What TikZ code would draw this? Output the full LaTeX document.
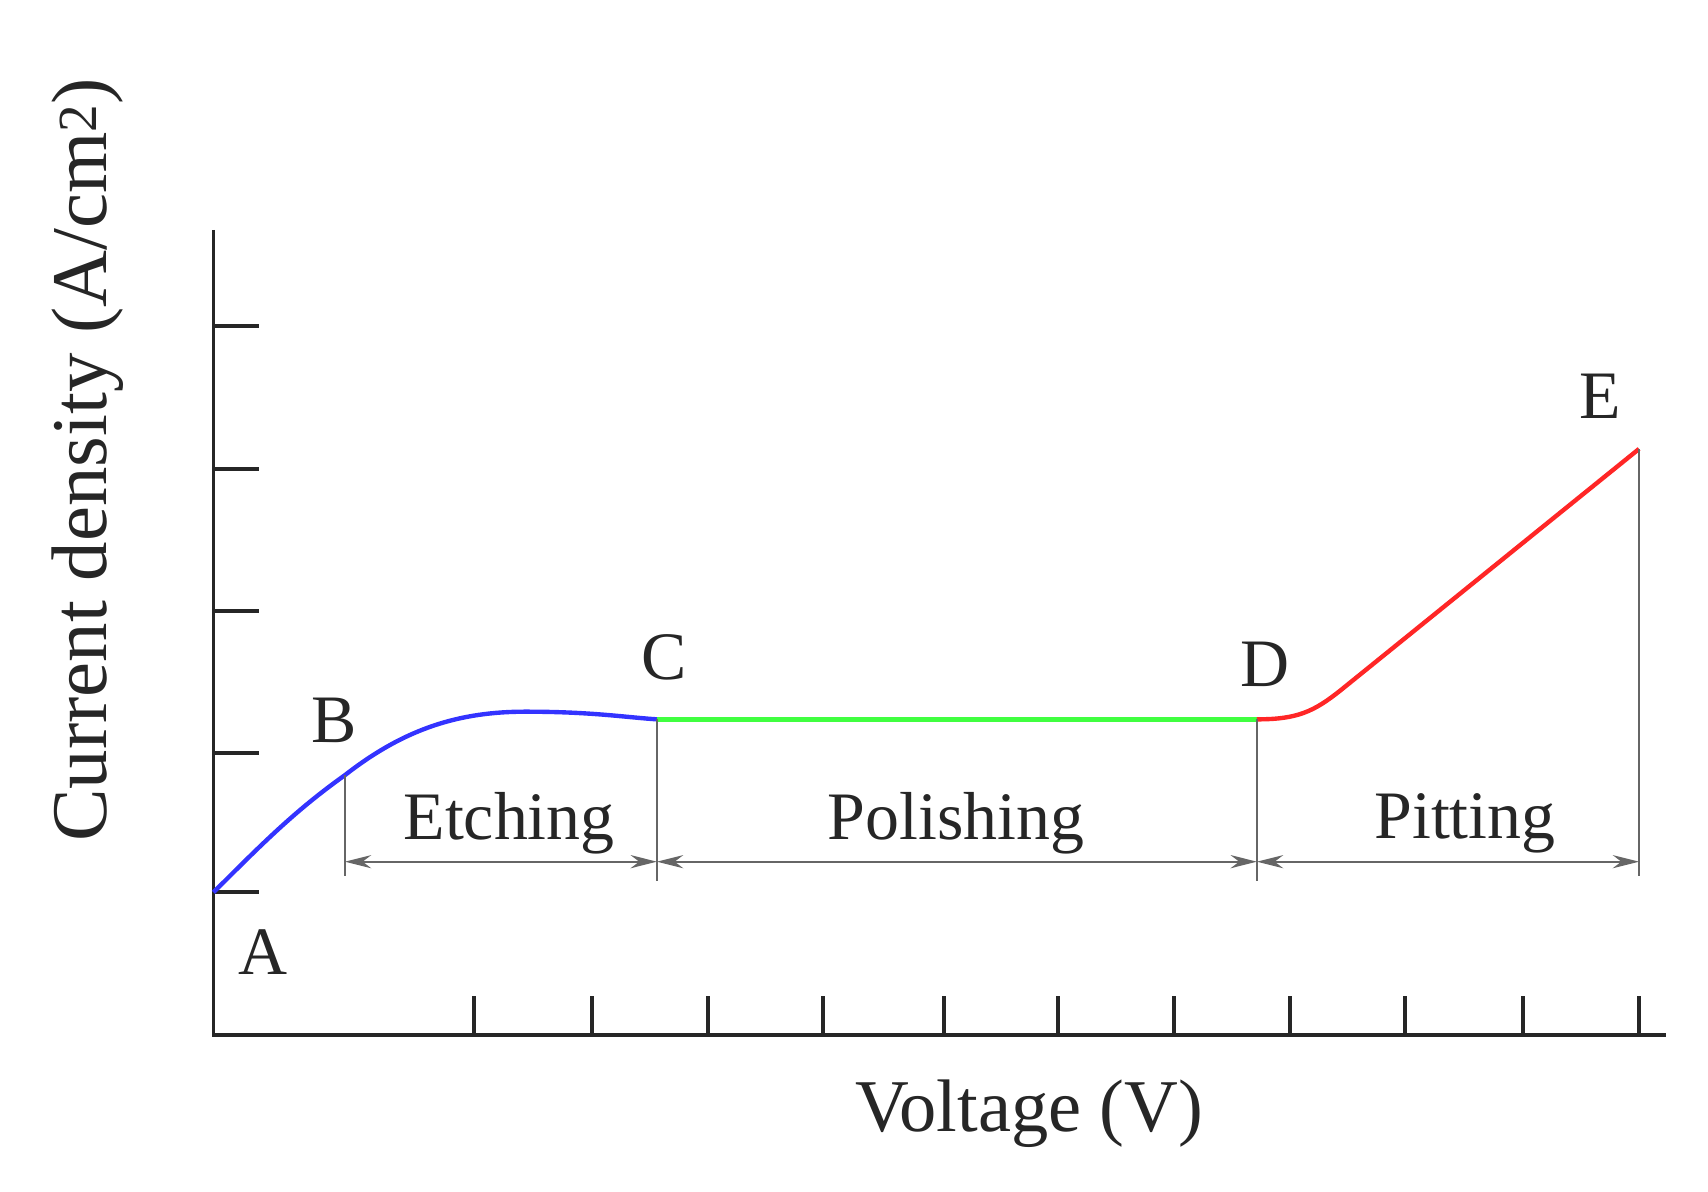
\documentclass[tikz,border=0pt]{standalone}
\usepackage{fontspec}
\setmainfont{Liberation Serif}
\usetikzlibrary{arrows.meta}
\begin{document}
\begin{tikzpicture}[x=1pt,y=-1pt,
  ax/.style={line width=3.5pt,black!85},
  dim/.style={line width=2pt,black!60},
  lbl/.style={font=\fontsize{62}{62}\selectfont,text=black!85,inner sep=0},
  dimarr/.style={dim,{Stealth[length=24pt,width=12pt]}-{Stealth[length=24pt,width=12pt]}}]
\useasboundingbox (0,0) rectangle (1560,1088);
\coordinate (O) at (195,945);
\coordinate (Ytop) at (195,210);
\coordinate (Xend) at (1522,945);
\draw[ax] (Ytop) -- (O) -- (Xend);
\foreach \y in {298,428,558,688,815} \draw[ax] (195,\y) -- (237,\y);
\foreach \x in {433,541,647,752,862,966,1072,1178,1283,1391,1497} \draw[ax] (\x,945) -- (\x,910);
\coordinate (A) at (195,815);
\coordinate (B) at (315,708);
\coordinate (C) at (600,657);
\coordinate (D) at (1148,657);
\coordinate (E) at (1497,410);
\draw[line width=4pt,blue!80] (A) .. controls (240,770) and (270,740) .. (B)
  .. controls (370,665) and (420,650) .. (480,650) .. controls (540,650) and (570,655) .. (C);
\draw[line width=4pt,green!75] (C) -- (D);
\draw[line width=4pt,red!85] (D) .. controls (1185,657) and (1200,650) .. (1225,630) -- (E);
\coordinate (B1) at (315,800); \coordinate (C1) at (600,805);
\coordinate (D1) at (1148,805); \coordinate (E1) at (1497,800);
\draw[dim] (B) -- (B1); \draw[dim] (C) -- (C1); \draw[dim] (D) -- (D1); \draw[dim] (E) -- (E1);
\coordinate (b2) at (315,787); \coordinate (c2) at (600,787);
\coordinate (d2) at (1148,787); \coordinate (e2) at (1497,787);
\draw[dimarr] (b2) -- (c2);
\draw[dimarr] (c2) -- (d2);
\draw[dimarr] (d2) -- (e2);
\node[lbl] (et) at (465,752) {Etching};
\node[lbl] (po) at (873,752) {Polishing};
\node[lbl] (pi) at (1338,752) {Pitting};
\node[lbl] (la) at (240,870) {A};
\node[lbl] (lb) at (305,658) {B};
\node[lbl] (lc) at (607,600) {C};
\node[lbl] (ld) at (1155,607) {D};
\node[lbl] (le) at (1462,362) {E};
\node[lbl,font=\fontsize{68}{68}\selectfont] (xl) at (940,1017) {Voltage (V)};
\node[lbl,font=\fontsize{72}{72}\selectfont,rotate=90] (yl) at (80,420) {Current density (A/cm\textsuperscript{2})};
\end{tikzpicture}
\end{document}
